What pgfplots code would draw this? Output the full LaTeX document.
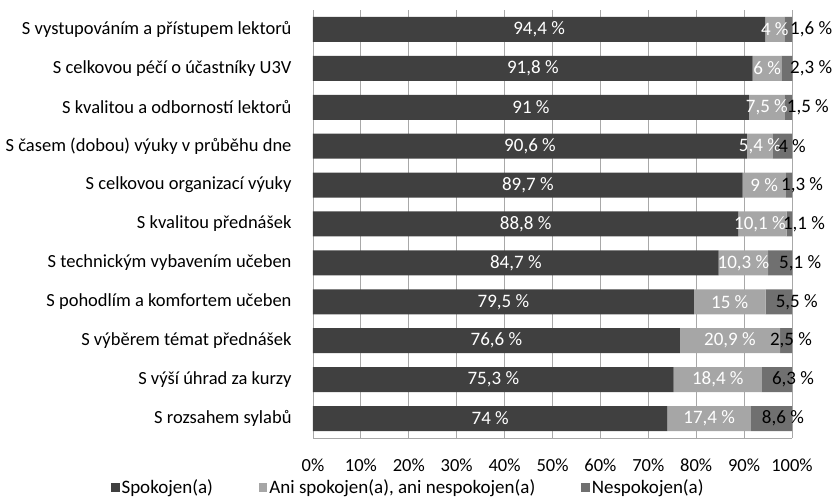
\documentclass[border=0pt]{standalone}
\usepackage{pgfplots}
\pgfplotsset{compat=1.18}
\usepackage{fontspec}
\setmainfont{Carlito}
\definecolor{cS}{HTML}{404040}
\definecolor{cA}{HTML}{A6A6A6}
\definecolor{cN}{HTML}{707070}
\definecolor{gridc}{HTML}{A8A8A8}
\begin{document}
\begin{tikzpicture}[font=\fontsize{18.5bp}{21bp}\selectfont]
\useasboundingbox (-313bp,-60bp) rectangle (520bp,438bp);
\begin{axis}[
  at={(0,0)}, anchor=south west,
  scale only axis, width=479bp, height=428bp,
  xbar stacked, bar width=25bp,
  xmin=0, xmax=100, ymin=-0.5, ymax=10.5,
  clip=false,
  /pgf/number format/assume math mode=true,
  ytick={0,...,10},
  yticklabels={S rozsahem sylabů, S výší úhrad za kurzy, S výběrem témat přednášek, S pohodlím a komfortem učeben, S technickým vybavením učeben, S kvalitou přednášek, S celkovou organizací výuky, S časem (dobou) výuky v průběhu dne, S kvalitou a odborností lektorů, S celkovou péčí o účastníky U3V, S vystupováním a přístupem lektorů},
  xtick={0,10,...,100},
  xticklabel={\pgfmathprintnumber{\tick}\%},
  major tick length=0pt,
  xmajorgrids, grid style={gridc, line width=0.8pt},
  axis x line*=bottom, axis y line*=left,
  axis line style={gridc, line width=0.8pt, -},
  xticklabel style={font=\fontsize{18.5bp}{21bp}\selectfont, anchor=north, yshift=-17bp},
  yticklabel style={font=\fontsize{18.5bp}{21bp}\selectfont, anchor=east, xshift=-18bp},
  legend columns=3,
  legend style={draw=none, fill=none, at={(0.199,-0.115)}, anchor=center,
    font=\fontsize{19bp}{21bp}\selectfont,
    /tikz/every even column/.append style={column sep=44bp},
    /tikz/every odd column/.append style={column sep=0bp},
    inner sep=0pt},
  legend image code/.code={\fill[#1] (-3bp,-4.5bp) rectangle (5.5bp,4bp);},
  legend cell align=left,
]
\addplot[fill=cS, draw=none] coordinates {(74,0) (75.3,1) (76.6,2) (79.5,3) (84.7,4) (88.8,5) (89.7,6) (90.6,7) (91,8) (91.8,9) (94.4,10)};
\addplot[fill=cA, draw=none] coordinates {(17.4,0) (18.4,1) (20.9,2) (15,3) (10.3,4) (10.1,5) (9,6) (5.4,7) (7.5,8) (6,9) (4,10)};
\addplot[fill=cN, draw=none] coordinates {(8.6,0) (6.3,1) (2.5,2) (5.5,3) (5.1,4) (1.1,5) (1.3,6) (4,7) (1.5,8) (2.3,9) (1.6,10)};
\legend{Spokojen(a), {Ani spokojen(a), ani nespokojen(a)}, Nespokojen(a)}
\end{axis}
\begin{axis}[
  at={(0,0)}, anchor=south west,
  scale only axis, width=479bp, height=428bp,
  xmin=0, xmax=100, ymin=-0.5, ymax=10.5,
  clip=false, hide axis,
  nodes near coords, point meta=explicit symbolic,
  every node near coord/.append style={anchor=center, font=\fontsize{19bp}{21bp}\selectfont, inner sep=0pt},
]
\addplot[only marks, mark=none, nodes near coords style={white}] coordinates {
(37,0) [74 \%] (37.65,1) [75,3 \%] (38.3,2) [76,6 \%] (39.75,3) [79,5 \%] (42.35,4) [84,7 \%] (44.4,5) [88,8 \%] (44.85,6) [89,7 \%] (45.3,7) [90,6 \%] (45.5,8) [91 \%] (45.9,9) [91,8 \%] (47.2,10) [94,4 \%]};
\addplot[only marks, mark=none, nodes near coords style={white}] coordinates {
(82.7,0) [17,4 \%] (84.5,1) [18,4 \%] (87.05,2) [20,9 \%] (87.0,3) [15 \%] (89.85,4) [10,3 \%] (93.3,5) [10,1 \%] (94.2,6) [9 \%] (93.3,7) [5,4 \%] (94.75,8) [7,5 \%] (94.8,9) [6 \%] (96.4,10) [4 \%]};
\addplot[only marks, mark=none, nodes near coords style={black}] coordinates {
(98.1,0) [8,6 \%] (100.2,1) [6,3 \%] (99.8,2) [2,5 \%] (101.0,3) [5,5 \%] (101.7,4) [5,1 \%] (102.5,5) [1,1 \%] (102.1,6) [1,3 \%] (100.0,7) [4 \%] (103.3,8) [1,5 \%] (104.0,9) [2,3 \%] (104.0,10) [1,6 \%]};
\end{axis}
\end{tikzpicture}
\end{document}
